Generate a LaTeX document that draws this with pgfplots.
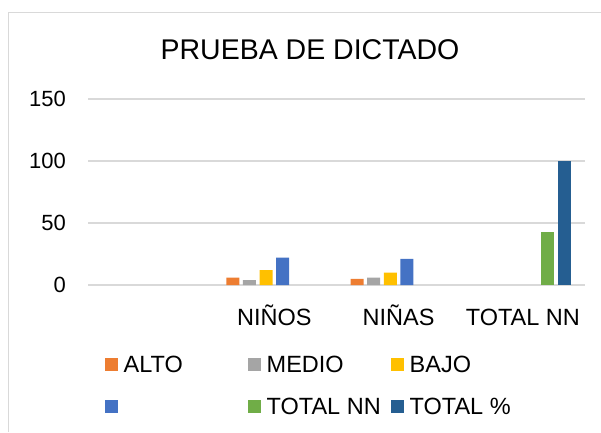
\documentclass[border=0pt]{standalone}
\usepackage{fontspec}
\setmainfont{Liberation Sans}
\usepackage{pgfplots}
\pgfplotsset{compat=1.18}
\definecolor{cAlto}{HTML}{ED7D31}
\definecolor{cMedio}{HTML}{A5A5A5}
\definecolor{cBajo}{HTML}{FFC000}
\definecolor{cBlue}{HTML}{4472C4}
\definecolor{cTotal}{HTML}{70AD47}
\definecolor{cPct}{HTML}{255E91}
\definecolor{gridc}{HTML}{D9D9D9}
\begin{document}
\begin{tikzpicture}[x=1pt,y=1pt]
\useasboundingbox (0,0) rectangle (601,432);
% chart frame (only left and top edges are visible)
\draw[gridc, line width=1pt] (8.5,0) -- (8.5,419.5) -- (601,419.5);
\node[font=\fontsize{28.5}{34}\selectfont, anchor=base] at (310,372) {PRUEBA DE DICTADO};
\begin{axis}[
  at={(88pt,147pt)}, anchor=south west, scale only axis,
  width=497pt, height=186pt,
  ybar=3.6pt, bar width=13pt,
  xmin=-0.5, xmax=3.5, ymin=0, ymax=150,
  ytick={0,50,100,150},
  xtick={1,2,3}, xticklabels={NIÑOS,NIÑAS,TOTAL NN},
  axis line style={draw=none}, major tick length=0pt,
  ymajorgrids, grid style={gridc, line width=1.5pt},
  /pgf/number format/assume math mode=true,
  yticklabel style={anchor=east, inner sep=0pt, xshift=-22pt, font=\fontsize{22}{26}\selectfont},
  xticklabel style={anchor=base, inner sep=0pt, yshift=-40pt, font=\fontsize{23.5}{28}\selectfont},
  legend columns=3,
  legend style={at={(0.0342,-0.3806)}, anchor=north west, draw=none, fill=none,
                inner sep=0pt, row sep=24.6pt, column sep=0pt,
                font=\fontsize{23.5}{28}\selectfont,
                nodes={inner sep=0pt, anchor=base west}},
  legend image code/.code={\fill[#1] (0pt,1.9pt) rectangle (13pt,14.9pt);},
  every axis plot/.append style={draw=none},
]
\addplot[fill=cAlto]  coordinates {(1,6) (2,5)};
\addlegendentry{\makebox[130pt][l]{\hspace{5.5pt}ALTO}}
\addplot[fill=cMedio] coordinates {(1,4) (2,6)};
\addlegendentry{\makebox[130pt][l]{\hspace{5.5pt}MEDIO}}
\addplot[fill=cBajo]  coordinates {(1,12) (2,10)};
\addlegendentry{\makebox[130pt][l]{\hspace{5.5pt}BAJO}}
\addplot[fill=cBlue]  coordinates {(1,22) (2,21)};
\addlegendentry{\makebox[130pt][l]{}}
\addplot[fill=cTotal] coordinates {(3,43)};
\addlegendentry{\makebox[130pt][l]{\hspace{5.5pt}TOTAL NN}}
\addplot[fill=cPct]   coordinates {(3,100)};
\addlegendentry{\makebox[130pt][l]{\hspace{5.5pt}TOTAL \%}}
\end{axis}
\end{tikzpicture}
\end{document}
